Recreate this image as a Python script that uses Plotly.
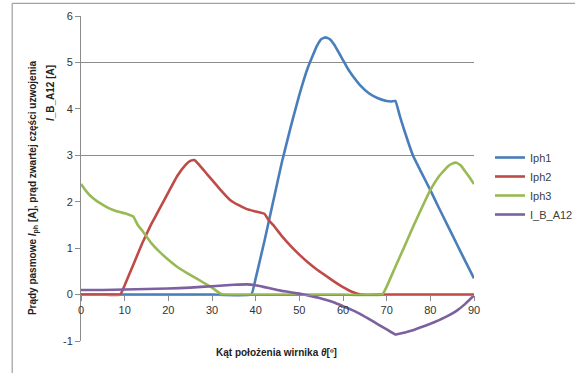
import plotly.graph_objects as go

# ---- data ----
theta_iph1 = [0, 10, 20, 30, 39, 40, 42, 44, 46, 48, 50, 52, 54, 55, 56, 57, 58, 60, 61, 62, 64, 66, 68, 70, 71, 72, 73, 74, 76, 78, 80, 82, 84, 86, 88, 90]
iph1 = [0, 0, 0, 0, 0, 0.35, 1.15, 2.0, 2.85, 3.6, 4.3, 4.9, 5.35, 5.5, 5.54, 5.5, 5.38, 5.05, 4.88, 4.74, 4.5, 4.33, 4.23, 4.17, 4.16, 4.17, 3.85, 3.55, 3.0, 2.62, 2.25, 1.86, 1.48, 1.1, 0.72, 0.35]

theta_iph2 = [0, 5, 9, 10, 12, 14, 16, 18, 20, 22, 24, 25, 26, 27, 28, 29, 30, 32, 34, 36, 38, 40, 42, 43, 44, 46, 48, 50, 52, 54, 56, 58, 60, 62, 64, 70, 80, 90]
iph2 = [0, 0, 0, 0.2, 0.65, 1.1, 1.5, 1.85, 2.2, 2.55, 2.8, 2.88, 2.9, 2.8, 2.69, 2.58, 2.47, 2.25, 2.05, 1.93, 1.84, 1.79, 1.74, 1.6, 1.5, 1.26, 1.05, 0.86, 0.69, 0.54, 0.41, 0.28, 0.16, 0.06, 0, 0, 0, 0]

theta_iph3 = [0, 1, 2, 3, 4, 6, 8, 10, 11, 12, 13, 14, 16, 18, 20, 22, 24, 26, 28, 30, 31, 32, 33, 40, 50, 60, 69, 70, 72, 74, 76, 78, 80, 82, 84, 85, 86, 87, 88, 89, 90]
iph3 = [2.38, 2.25, 2.14, 2.06, 1.99, 1.88, 1.8, 1.75, 1.72, 1.68, 1.5, 1.38, 1.12, 0.92, 0.75, 0.6, 0.48, 0.37, 0.26, 0.15, 0.08, 0.02, 0, 0, 0, 0, 0, 0.17, 0.6, 1.02, 1.45, 1.86, 2.25, 2.55, 2.76, 2.82, 2.84, 2.78, 2.65, 2.52, 2.38]

theta_ib = [0, 5, 10, 15, 20, 25, 30, 35, 38, 40, 42, 44, 46, 48, 50, 52, 54, 56, 58, 60, 62, 64, 66, 68, 70, 72, 74, 76, 78, 80, 82, 84, 86, 88, 90]
i_b_a12 = [0.1, 0.1, 0.11, 0.12, 0.13, 0.15, 0.18, 0.21, 0.22, 0.2, 0.16, 0.12, 0.08, 0.05, 0.02, -0.02, -0.06, -0.11, -0.17, -0.25, -0.33, -0.42, -0.53, -0.64, -0.75, -0.86, -0.82, -0.77, -0.7, -0.63, -0.55, -0.46, -0.35, -0.2, -0.02]

series_names = ["Iph1", "Iph2", "Iph3", "I_B_A12"]
series_colors = ["#4A7EBB", "#BE4B48", "#98B954", "#7D60A0"]

x_ticks = [0, 10, 20, 30, 40, 50, 60, 70, 80, 90]
y_ticks = [-1, 0, 1, 2, 3, 4, 5, 6]
y_tick_text = ["-1", "0", "1", "2", "3", "4", "5", "6"]
grid_lines = [3, 5, 6]

FONT = "Liberation Sans"
AX = "#8c8c8c"

fig = go.Figure()
for xs, ys, name, col in zip([theta_iph1, theta_iph2, theta_iph3, theta_ib],
                             [iph1, iph2, iph3, i_b_a12], series_names, series_colors):
    fig.add_trace(go.Scatter(x=xs, y=ys, name=name, mode="lines",
                             line=dict(color=col, width=2.6, shape="spline", smoothing=0.3)))

fig.update_layout(
    width=575, height=373,
    margin=dict(l=81, r=101, t=16, b=32, autoexpand=False),
    plot_bgcolor="white", paper_bgcolor="white",
    font=dict(family=FONT, size=11, color="#333333"),
    xaxis=dict(range=[0, 90], tickvals=x_ticks, showgrid=False, zeroline=False,
               showline=True, linecolor=AX, linewidth=1, ticks="outside", ticklen=5,
               tickcolor=AX, anchor="free", position=1/7,
               tickfont=dict(family=FONT, size=11, color="#333333")),
    yaxis=dict(range=[-1, 6], tickvals=y_ticks, ticktext=y_tick_text, showgrid=False,
               zeroline=False, showline=True, linecolor=AX, linewidth=1, ticks="outside",
               ticklen=5, tickcolor=AX, domain=[0, 1],
               tickfont=dict(family=FONT, size=11, color="#333333")),
    yaxis2=dict(range=[-1, 6], overlaying="y", tickvals=grid_lines, showgrid=True,
                gridcolor=AX, gridwidth=1, showticklabels=False, zeroline=False,
                showline=False, layer="below traces"),
    legend=dict(xref="container", yref="container", x=490 / 575, y=1 - 143 / 373,
                xanchor="left", yanchor="top",
                font=dict(family=FONT, size=11, color="#404040"),
                itemwidth=30, bgcolor="rgba(0,0,0,0)", tracegroupgap=0),
    showlegend=True,
)

# invisible helper trace so the grid axis is drawn
fig.add_trace(go.Scatter(x=[0], y=[0], yaxis="y2", showlegend=False, hoverinfo="skip",
                         mode="markers", marker=dict(opacity=0)))

fig.add_annotation(text="Prądy pasmowe <i>I</i><sub>ph</sub> [A], prąd zwartej części uzwojenia",
                   xref="paper", yref="paper", x=(34 - 81) / 394, y=(341 - 188) / 325,
                   textangle=-90, showarrow=False, xanchor="center", yanchor="middle",
                   font=dict(family=FONT, size=10, color="#222222", weight="bold"))
fig.add_annotation(text="<i>I</i>_B_A12 [A]",
                   xref="paper", yref="paper", x=(50 - 81) / 394, y=(341 - 93) / 325,
                   textangle=-90, showarrow=False, xanchor="center", yanchor="middle",
                   font=dict(family=FONT, size=10, color="#222222", weight="bold"))
fig.add_annotation(text="Kąt położenia wirnika <i>θ</i>[º]",
                   xref="paper", yref="paper", x=(277 - 81) / 394, y=(341 - 352) / 325,
                   showarrow=False, xanchor="center", yanchor="middle",
                   font=dict(family=FONT, size=10, color="#222222", weight="bold"))

# outer chart border
fig.add_shape(type="rect", xref="paper", yref="paper",
              x0=(12 - 81) / 394, x1=(590 - 81) / 394,
              y0=(341 - 380) / 325, y1=(341 - 3.3) / 325,
              line=dict(color=AX, width=1), fillcolor="rgba(0,0,0,0)", layer="below")

fig.write_html("out.html")
